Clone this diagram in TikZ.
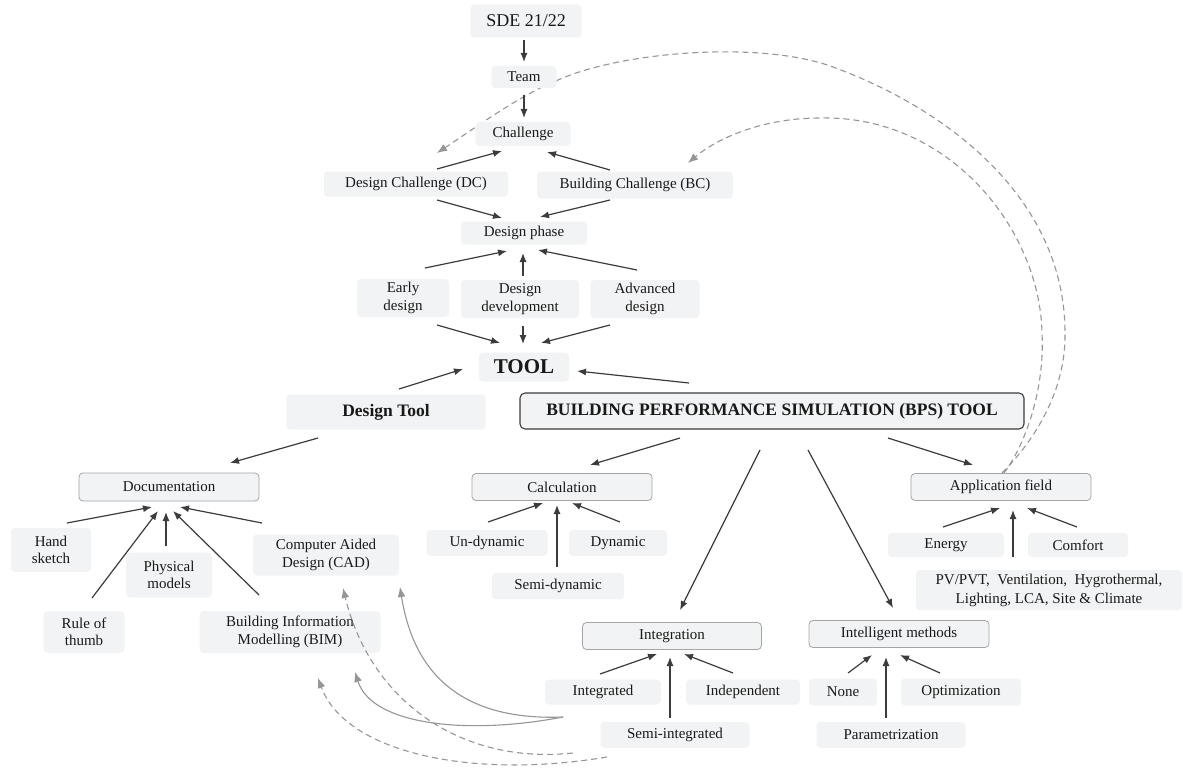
\documentclass[tikz,border=0pt]{standalone}
\usepackage{fontspec}
\setmainfont{Liberation Serif}
\usetikzlibrary{arrows.meta}
\definecolor{boxfill}{RGB}{242,243,244}
\definecolor{boxline}{RGB}{165,165,165}
\definecolor{txt}{RGB}{25,25,25}
\definecolor{arrowc}{RGB}{60,60,60}
\definecolor{linkc}{RGB}{150,150,150}
\pgfdeclarelayer{background}
\pgfsetlayers{background,main}
\tikzset{
  box/.style 2 args={fill=boxfill, rounded corners=4pt, inner sep=0pt,
    minimum width=#1pt, minimum height=#2pt, align=center, text=txt,
    font=\fontsize{15}{17.5}\selectfont},
  framed/.style 2 args={box={#1}{#2}, draw=boxline, line width=0.8pt},
  bpsbox/.style 2 args={box={#1}{#2}, draw=arrowc, line width=1.1pt,
    rounded corners=5pt, font=\fontsize{17.5}{20}\selectfont\bfseries},
  arr/.style={draw=arrowc, line width=1.2pt, -{Latex[length=9pt,width=7pt]}},
  link/.style={draw=linkc, line width=1.1pt, -{Latex[length=10pt,width=8pt]}},
  dlink/.style={link, dash pattern=on 6pt off 4pt},
}
\begin{document}
\begin{tikzpicture}[x=1pt,y=-1pt]
\useasboundingbox (0,0) rectangle (1183,773);

% upper chain
\node[box={111}{33}, font=\fontsize{18}{20}\selectfont] (sde) at (526,21) {SDE 21/22};
\node[box={65}{22}] (team) at (524,77) {Team};
\node[box={95}{24}] (chal) at (523,134) {Challenge};
\node[box={184}{25}] (dc) at (416,184) {Design Challenge (DC)};
\node[box={196}{27}] (bc) at (635,185) {Building Challenge (BC)};
\node[box={126}{23}] (phase) at (524,233) {Design phase};
\node[box={92}{38}] (early) at (403,298) {Early\\design};
\node[box={118}{38}] (devel) at (520,299) {Design\\development};
\node[box={109}{38}] (adv) at (645,299) {Advanced\\design};
\node[box={90}{29}, font=\fontsize{21}{24}\selectfont\bfseries] (tool) at (524,367) {TOOL};
\node[box={199}{35}, font=\fontsize{17.5}{20}\selectfont\bfseries] (dtool) at (386,412) {Design Tool};
\node[bpsbox={504}{36}] (bps) at (772,411) {BUILDING PERFORMANCE SIMULATION (BPS) TOOL};

% design tool branch
\node[framed={180}{28}] (doc) at (169,487) {Documentation};
\node[box={80}{44}] (hand) at (51,550) {Hand\\sketch};
\node[box={86}{45}] (phys) at (169,575) {Physical\\models};
\node[box={81}{42}] (rule) at (84,632) {Rule of\\thumb};
\node[box={146}{41}] (cad) at (326,555) {Computer Aided\\Design (CAD)};
\node[box={181}{42}] (bim) at (290,632) {Building Information\\Modelling (BIM)};

% calculation
\node[framed={180}{27}] (calc) at (562,487) {Calculation};
\node[box={121}{26}] (undyn) at (487,543) {Un-dynamic};
\node[box={98}{26}] (dyn) at (618,543) {Dynamic};
\node[box={132}{26}] (semidyn) at (558,586) {Semi-dynamic};

% application field
\node[framed={180}{27}] (app) at (1001,487) {Application field};
\node[box={116}{24}] (energy) at (946,545) {Energy};
\node[box={100}{24}] (comfort) at (1078,545) {Comfort};
\node[box={266}{40}, font=\fontsize{15}{19}\selectfont] (pv) at (1049,590)
  {PV/PVT,\ \ Ventilation,\ \ Hygrothermal,\\Lighting, LCA, Site \& Climate};

% integration
\node[framed={179}{27}] (integ) at (672,636) {Integration};
\node[box={116}{25}] (integrated) at (603,692) {Integrated};
\node[box={114}{25}] (indep) at (743,692) {Independent};
\node[box={149}{26}] (semiint) at (675,735) {Semi-integrated};

% intelligent methods
\node[framed={180}{27}] (intel) at (899,634) {Intelligent methods};
\node[box={68}{27}] (none) at (843,692) {None};
\node[box={120}{27}] (opt) at (961,692) {Optimization};
\node[box={149}{26}] (param) at (891,735) {Parametrization};

% main arrows
\draw[arr] ([shift={(-2,19)}]sde.center) -- ([shift={(0,-15)}]team.center);
\draw[arr] ([shift={(0,18)}]team.center) -- ([shift={(1,-16)}]chal.center);
\draw[arr] ([shift={(21,-15)}]dc.center) -- ([shift={(-21,17)}]chal.center);
\draw[arr] ([shift={(-25,-15)}]bc.center) -- ([shift={(24,18)}]chal.center);
\draw[arr] ([shift={(21,16)}]dc.center) -- ([shift={(-22,-15)}]phase.center);
\draw[arr] ([shift={(-25,15)}]bc.center) -- ([shift={(16,-16)}]phase.center);
\draw[arr] ([shift={(22,-30)}]early.center) -- ([shift={(-17,18)}]phase.center);
\draw[arr] ([shift={(3,-23)}]devel.center) -- ([shift={(-1,20)}]phase.center);
\draw[arr] ([shift={(-8,-29)}]adv.center) -- ([shift={(14,17)}]phase.center);
\draw[arr] ([shift={(34,27)}]early.center) -- ([shift={(-24,-24)}]tool.center);
\draw[arr] ([shift={(3,27)}]devel.center) -- ([shift={(-1,-23)}]tool.center);
\draw[arr] ([shift={(-35,26)}]adv.center) -- ([shift={(17,-24)}]tool.center);
\draw[arr] ([shift={(13,-23)}]dtool.center) -- ([shift={(-61,2)}]tool.center);
\draw[arr] ([shift={(-83,-28)}]bps.center) -- ([shift={(53,4)}]tool.center);
\draw[arr] ([shift={(-68,26)}]dtool.center) -- ([shift={(61,-24)}]doc.center);
\draw[arr] ([shift={(-92,27)}]bps.center) -- ([shift={(28,-22)}]calc.center);
\draw[arr] ([shift={(-12,39)}]bps.center) -- ([shift={(8,-26)}]integ.center);
\draw[arr] ([shift={(36,39)}]bps.center) -- ([shift={(-6,-26)}]intel.center);
\draw[arr] ([shift={(116,27)}]bps.center) -- ([shift={(-28,-22)}]app.center);

\draw[arr] ([shift={(16,-27)}]hand.center) -- ([shift={(-17,20)}]doc.center);
\draw[arr] ([shift={(8,-34)}]rule.center) -- ([shift={(-11,24)}]doc.center);
\draw[arr] ([shift={(-3,-29)}]phys.center) -- ([shift={(-3,25)}]doc.center);
\draw[arr] ([shift={(-31,-37)}]bim.center) -- ([shift={(4,24)}]doc.center);
\draw[arr] ([shift={(-64,-32)}]cad.center) -- ([shift={(11,20)}]doc.center);

\draw[arr] ([shift={(1,-21)}]undyn.center) -- ([shift={(-19,16)}]calc.center);
\draw[arr] ([shift={(-1,-19)}]semidyn.center) -- ([shift={(-5,18)}]calc.center);
\draw[arr] ([shift={(2,-21)}]dyn.center) -- ([shift={(10,16)}]calc.center);

\draw[arr] ([shift={(-3,-18)}]energy.center) -- ([shift={(-1,21)}]app.center);
\draw[arr] ([shift={(-36,-33)}]pv.center) -- ([shift={(12,23)}]app.center);
\draw[arr] ([shift={(-1,-18)}]comfort.center) -- ([shift={(26,21)}]app.center);

\draw[arr] ([shift={(-3,-18)}]integrated.center) -- ([shift={(-15,18)}]integ.center);
\draw[arr] ([shift={(-5,-17)}]semiint.center) -- ([shift={(-2,21)}]integ.center);
\draw[arr] ([shift={(-10,-19)}]indep.center) -- ([shift={(12,18)}]integ.center);

\draw[arr] ([shift={(5,-19)}]none.center) -- ([shift={(-27,21)}]intel.center);
\draw[arr] ([shift={(-5,-17)}]param.center) -- ([shift={(-13,23)}]intel.center);
\draw[arr] ([shift={(-21,-19)}]opt.center) -- ([shift={(1,21)}]intel.center);

% links from integration choices back to CAD and BIM
\draw[link] ([shift={(-40,25)}]integrated.center) .. controls (440,722) and (410,650) .. ([shift={(74,32)}]cad.center);
\draw[link] ([shift={(-40,25)}]integrated.center) .. controls (470,735) and (372,726) .. ([shift={(65,40)}]bim.center);
\draw[dlink] ([shift={(-102,18)}]semiint.center) .. controls (460,765) and (370,700) .. ([shift={(17,33)}]cad.center);
\draw[dlink] ([shift={(-68,22)}]semiint.center) .. controls (470,780) and (345,752) .. ([shift={(28,46)}]bim.center);

% white page, then the links from the application field back to the challenges,
% both kept beneath the boxes
\begin{pgfonlayer}{background}
\fill[white] (0,0) rectangle (1183,773);
\draw[dlink] ([shift={(1,-14)}]app.center) .. controls (1035,440) and (1066,390) .. (1065,333)
  .. controls (1065,200) and (950,110) .. (833,67)
  .. controls (760,40) and (620,52) .. (558,80)
  .. controls (520,95) and (475,128) .. ([shift={(21,-31)}]dc.center);
\draw[dlink] ([shift={(3,-14)}]app.center) .. controls (1025,445) and (1045,390) .. (1042,333)
  .. controls (1040,230) and (950,115) .. (820,118)
  .. controls (760,118) and (715,140) .. ([shift={(53,-22)}]bc.center);
\end{pgfonlayer}
\end{tikzpicture}
\end{document}
